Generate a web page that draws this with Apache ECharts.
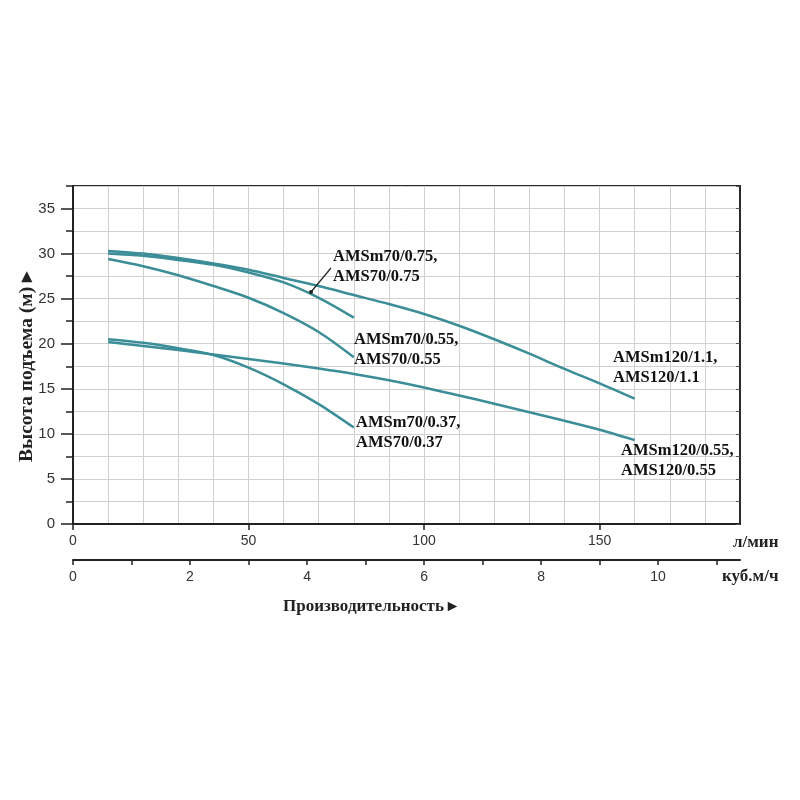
<!DOCTYPE html>
<html lang="ru">
<head>
    <meta charset="UTF-8">
    <script src="https://cdn.jsdelivr.net/npm/echarts@6/dist/echarts.min.js"></script>
    <title>Напорные характеристики</title>
    <style type="text/css">
        html, body { margin: 0; padding: 0; background: #fff; }
        #chart { width: 800px; height: 800px; }
    </style>
</head>
<body>
<div id="chart"></div>
<script type="text/javascript">
    // расход, л/мин
    const flow70 = [10, 20, 30, 40, 50, 60, 70, 80];
    const flow120 = [10, 20, 30, 40, 50, 60, 70, 80, 90, 100, 110, 120, 130, 140, 150, 160];

    // напор, м
    const headAMS70_075 = [30.0, 29.75, 29.3, 28.75, 27.9, 26.8, 25.1, 22.9];
    const headAMS70_055 = [29.4, 28.6, 27.6, 26.4, 25.1, 23.4, 21.3, 18.5];
    const headAMS70_037 = [20.5, 20.1, 19.5, 18.75, 17.35, 15.5, 13.3, 10.7];
    const headAMS120_11 = [30.3, 30.0, 29.5, 28.9, 28.2, 27.3, 26.4, 25.4, 24.4, 23.3, 22.0, 20.5, 18.9, 17.2, 15.6, 13.9];
    const headAMS120_055 = [20.2, 19.75, 19.3, 18.8, 18.3, 17.8, 17.25, 16.65, 15.95, 15.15, 14.25, 13.35, 12.4, 11.45, 10.45, 9.3];

    // подписи осей
    const flowTicks = [0, 50, 100, 150];
    const cubicTicks = [0, 1, 2, 3, 4, 5, 6, 7, 8, 9, 10, 11];
    const cubicLabels = [0, 2, 4, 6, 8, 10];
    const headTicks = [0, 5, 10, 15, 20, 25, 30, 35];
    const headMinorTicks = [2.5, 7.5, 12.5, 17.5, 22.5, 27.5, 32.5, 37.5];

    const curveColor = '#3b8d97';
    const numFont = '"Liberation Sans", Arial, sans-serif';
    const serifFont = '"Liberation Serif", "Times New Roman", serif';

    function pairs(xs, ys) {
        return xs.map(function (x, i) { return [x, ys[i]]; });
    }

    function curve(name, xs, ys) {
        return {
            name: name,
            type: 'line',
            smooth: 0.3,
            showSymbol: false,
            xAxisIndex: 0,
            yAxisIndex: 0,
            lineStyle: { color: curveColor, width: 2.5 },
            data: pairs(xs, ys)
        };
    }

    function note(x, y, text) {
        return {
            type: 'text',
            x: x,
            y: y,
            z: 100,
            style: {
                text: text,
                font: 'bold 16.5px ' + serifFont,
                fill: '#111',
                lineHeight: 20,
                textAlign: 'left',
                textVerticalAlign: 'top'
            }
        };
    }

    function caption(x, y, text, size, rotation, align) {
        return {
            type: 'text', x: x, y: y, z: 100, rotation: rotation || 0,
            style: {
                text: text, font: 'bold ' + size + 'px ' + serifFont, fill: '#222',
                textAlign: align || 'left', textVerticalAlign: 'middle'
            }
        };
    }

    const tickLine = { color: '#222', width: 1.5 };
    const labelStyle = { fontSize: 14, fontFamily: numFont, color: '#333' };

    const myChart = echarts.init(document.getElementById('chart'));

    const option = {
        animation: false,
        backgroundColor: '#fff',
        grid: {
            left: 73, right: 60, top: 186, bottom: 276,
            show: true, borderColor: '#2a2a2a', borderWidth: 2
        },
        xAxis: [{
            // сетка через 10 л/мин
            type: 'value', min: 0, max: 190, interval: 10, position: 'bottom',
            axisLine: { onZero: false, lineStyle: { color: '#222', width: 2 } },
            axisTick: { show: false },
            axisLabel: { show: false },
            splitLine: { show: true, lineStyle: { color: '#d0d0d0', width: 1 } }
        }, {
            type: 'value', min: 0, max: 190, interval: 10, position: 'bottom',
            axisLine: { show: false, onZero: false },
            axisTick: { customValues: flowTicks, length: 6, lineStyle: tickLine },
            axisLabel: Object.assign({ customValues: flowTicks, margin: 10 }, labelStyle),
            splitLine: { show: false }
        }, {
            type: 'value', min: 0, max: 11.4, interval: 1, position: 'bottom', offset: 36,
            axisLine: { show: true, onZero: false, lineStyle: { color: '#222', width: 2 } },
            axisTick: { customValues: cubicTicks, length: 5, lineStyle: tickLine },
            axisLabel: Object.assign({ customValues: cubicLabels, margin: 10 }, labelStyle),
            splitLine: { show: false }
        }],
        yAxis: [{
            // сетка через 2.5 м
            type: 'value', min: 0, max: 37.5, interval: 2.5, position: 'left',
            axisLine: { show: true, onZero: false, lineStyle: { color: '#222', width: 2 } },
            axisTick: { show: false },
            axisLabel: { show: false },
            splitLine: { show: true, lineStyle: { color: '#d0d0d0', width: 1 } }
        }, {
            type: 'value', min: 0, max: 37.5, interval: 2.5, position: 'left',
            axisLine: { show: false, onZero: false },
            axisTick: { customValues: headTicks, length: 12, lineStyle: tickLine },
            axisLabel: Object.assign({ customValues: headTicks, margin: 18 }, labelStyle, { fontSize: 15 }),
            splitLine: { show: false }
        }, {
            type: 'value', min: 0, max: 37.5, interval: 2.5, position: 'left',
            axisLine: { show: false, onZero: false },
            axisTick: { customValues: headMinorTicks, length: 7, lineStyle: tickLine },
            axisLabel: { show: false },
            splitLine: { show: false }
        }, {
            type: 'value', min: 0, max: 37.5, interval: 2.5, position: 'right',
            axisLine: { show: true, onZero: false, lineStyle: { color: '#2a2a2a', width: 2 } },
            axisTick: { inside: true, length: 4, lineStyle: { color: '#555', width: 1 } },
            axisLabel: { show: false },
            splitLine: { show: false }
        }],
        series: [
            curve('AMS120/1.1', flow120, headAMS120_11),
            curve('AMS70/0.75', flow70, headAMS70_075),
            curve('AMS70/0.55', flow70, headAMS70_055),
            curve('AMS120/0.55', flow120, headAMS120_055),
            curve('AMS70/0.37', flow70, headAMS70_037)
        ],
        graphic: [
            caption(27, 367, 'Высота подъема (м) ▸', 19.5, Math.PI / 2, 'center'),
            caption(283, 607, 'Производительность ▸', 17),
            caption(733, 543, 'л/мин', 17),
            caption(722, 577, 'куб.м/ч', 17),
            note(333, 247, 'AMSm70/0.75,\nAMS70/0.75'),
            note(354, 330, 'AMSm70/0.55,\nAMS70/0.55'),
            note(356, 413, 'AMSm70/0.37,\nAMS70/0.37'),
            note(613, 348, 'AMSm120/1.1,\nAMS120/1.1'),
            note(621, 441, 'AMSm120/0.55,\nAMS120/0.55'),
            // указатель к кривой 0.75
            {
                type: 'line', z: 100,
                shape: { x1: 331, y1: 268, x2: 311, y2: 292 },
                style: { stroke: '#222', lineWidth: 1.2 }
            },
            {
                type: 'circle', z: 100,
                shape: { cx: 311, cy: 292, r: 2 },
                style: { fill: '#222' }
            }
        ]
    };

    myChart.setOption(option);
</script>
</body>
</html>
